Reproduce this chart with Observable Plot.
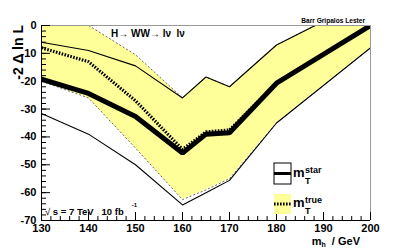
<!DOCTYPE html>
<html><head><meta charset="utf-8">
<script src="https://cdn.jsdelivr.net/npm/d3@7"></script>
<script src="https://cdn.jsdelivr.net/npm/@observablehq/plot@0.6"></script>
<style>
body{margin:0;background:#fff;}
#chart{width:411px;height:249px;}
svg{font-family:"Liberation Sans",Arial,Helvetica,sans-serif;}
</style></head><body><div id="chart"></div>
<script>
// Higgs mass points (GeV)
const mh = [130, 140, 150, 160, 165, 170, 180, 200];
// m_T^star: central (thick) and band (thin lines)
const starCentral = [-19.3, -24.4, -32.7, -45.8, -39, -38.5, -20.7, 0];
const starUpper   = [-6, -9, -14.5, -26, -18.5, -22, -7, 10];
const starLower   = [-31.6, -39, -50, -64.4, -60, -55.6, -35, -8];
// m_T^true: central (dotted) and yellow band
const trueCentral = [-8, -13, -27, -44.5, -38.2, -37.5, -20.7, 0];
const trueUpper   = [3, 0, -10.5, -26, -18.5, -22, -7, 10];
const trueLower   = [-20, -26, -44, -62.5, -59, -55, -35, -8];
// axis ticks
const xMajor = [130, 140, 150, 160, 170, 180, 190, 200];
const yMajor = [0, -10, -20, -30, -40, -50, -60, -70];
const xMinor = d3.range(130, 201, 2);
const yMinor = d3.range(-70, 1, 2);

const rows = mh.map((x, i) => ({
  x, sc: starCentral[i], su: starUpper[i], sl: starLower[i],
  tc: trueCentral[i], tu: trueUpper[i], tl: trueLower[i]
}));

const W = 411, H = 249, mL = 41, mR = 41, mT = 25, mB = 29;
const iw = W - mL - mR, ih = H - mT - mB;
const yellow = "#ffff99";

const plot = Plot.plot({
  width: W, height: H,
  marginLeft: mL, marginRight: mR, marginTop: mT, marginBottom: mB,
  x: {domain: [130, 200]},
  y: {domain: [-70, 0]},
  style: {fontFamily: '"Liberation Sans",Arial,sans-serif', fontSize: "11px", fontWeight: "bold", color: "#000", background: "#fff"},
  marks: [
    Plot.areaY(rows, {x: "x", y1: "tl", y2: "tu", fill: yellow, clip: true}),
    Plot.lineY(rows, {x: "x", y: "tu", stroke: "#666", strokeWidth: 1, strokeDasharray: "2,2", strokeLinecap: "butt", clip: true}),
    Plot.lineY(rows, {x: "x", y: "tl", stroke: "#666", strokeWidth: 1, strokeDasharray: "2,2", strokeLinecap: "butt", clip: true}),
    Plot.lineY(rows, {x: "x", y: "su", stroke: "#000", strokeWidth: 1.1, clip: true}),
    Plot.lineY(rows, {x: "x", y: "sl", stroke: "#000", strokeWidth: 1.1, clip: true}),
    Plot.lineY(rows, {x: "x", y: "sc", stroke: "#000", strokeWidth: 5, strokeLinejoin: "miter", clip: true}),
    Plot.lineY(rows, {x: "x", y: "tc", stroke: "#000", strokeWidth: 3.2, strokeDasharray: "1.6,1.4", strokeLinecap: "butt", clip: true}),
    Plot.ruleY([0], {stroke: "#999"}),
    Plot.ruleX([200], {stroke: "#999"}),
    Plot.ruleX([130], {stroke: "#000"}),
    Plot.ruleY([-70], {stroke: "#000"}),
    Plot.tickX(xMajor, {x: d => d, insetTop: ih - 8, stroke: "#000"}),
    Plot.tickX(xMinor, {x: d => d, insetTop: ih - 4, stroke: "#000"}),
    Plot.tickY(yMajor, {y: d => d, insetRight: iw - 9, stroke: "#000"}),
    Plot.tickY(yMinor, {y: d => d, insetRight: iw - 5, stroke: "#000"}),
    Plot.axisX({ticks: xMajor, tickSize: 0, tickPadding: 4, tickFormat: d => String(d), label: null, fontWeight: "bold"}),
    Plot.axisY({ticks: yMajor, tickSize: 0, tickPadding: 5, tickFormat: d => String(d), label: null, fontWeight: "bold"})
  ]
});
document.getElementById("chart").appendChild(plot);

const svg = d3.select(plot);
const g = svg.append("g").attr("font-family", '"Liberation Sans",Arial,sans-serif')
  .attr("fill", "#000").attr("text-anchor", "start");

// process title
const t1 = g.append("text").attr("x", 111).attr("y", 37).attr("font-size", 10).style("white-space", "pre");
t1.append("tspan").attr("font-weight", "bold").text("H");
t1.append("tspan").text("\u2192 ");
t1.append("tspan").attr("font-weight", "bold").text("WW");
t1.append("tspan").text("\u2192 l\u03bd  l\u03bd");

// authors
g.append("text").attr("x", 365).attr("y", 22.5).attr("text-anchor", "end")
  .attr("font-size", 6.6).attr("font-weight", "bold").text("Barr Gripalos Lester");

// energy / luminosity
const t2 = g.append("text").attr("x", 45).attr("y", 215).attr("font-size", 9.5).attr("font-weight", "bold").style("white-space", "pre");
t2.append("tspan").attr("font-weight", "normal").text("\u221a ");
t2.append("tspan").text("s = 7 TeV   10 fb");
t2.append("tspan").attr("dx", 8).attr("dy", -8).attr("font-size", 6).text("-1");

// y title
g.append("text").attr("transform", "translate(23,25) rotate(-90)").attr("text-anchor", "end")
  .attr("font-size", 14).attr("font-weight", "bold").style("white-space", "pre").text("-2 \u0394 ln L");

// x title
const t3 = g.append("text").attr("x", 360).attr("y", 244.5).attr("text-anchor", "end").attr("font-size", 11).attr("font-weight", "bold").style("white-space", "pre");
t3.append("tspan").text("m");
t3.append("tspan").attr("dy", 2.5).attr("font-size", 7).text("h");
t3.append("tspan").attr("dy", -2.5).text("  / GeV");

// legend
g.append("rect").attr("x", 274).attr("y", 163).attr("width", 17).attr("height", 21).attr("fill", "#fff").attr("stroke", "#000").attr("stroke-width", 1);
g.append("line").attr("x1", 274).attr("x2", 291).attr("y1", 173.5).attr("y2", 173.5).attr("stroke", "#000").attr("stroke-width", 3);
g.append("rect").attr("x", 274).attr("y", 194).attr("width", 17).attr("height", 20).attr("fill", yellow);
g.append("line").attr("x1", 274).attr("x2", 291).attr("y1", 204).attr("y2", 204).attr("stroke", "#000").attr("stroke-width", 3).attr("stroke-dasharray", "1.6,1.4");

function legendLabel(y0, sup) {
  g.append("text").attr("x", 293).attr("y", y0).attr("font-size", 13).attr("font-weight", "bold").text("m");
  g.append("text").attr("x", 305).attr("y", y0 + 7).attr("font-size", 9).attr("font-weight", "bold").text("T");
  g.append("text").attr("x", 305).attr("y", y0 - 4.5).attr("font-size", 9).attr("font-weight", "bold").text(sup);
}
legendLabel(177, "star");
legendLabel(207, "true");
</script>
</body></html>
